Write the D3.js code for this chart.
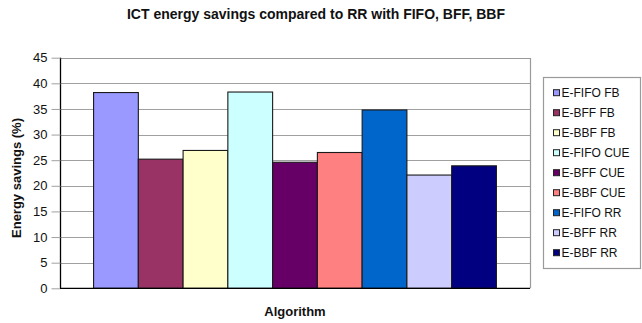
<!DOCTYPE html>
<html>
<head>
<meta charset="utf-8">
<script src="https://cdn.jsdelivr.net/npm/d3@7"></script>
<style>
  html, body { margin: 0; padding: 0; background: #fff; }
  svg { display: block; font-family: "Liberation Sans", Arial, sans-serif; }
</style>
</head>
<body>
<svg id="chart" width="642" height="323"></svg>
<script>
// Series (one bar each) within the single "Algorithm" category
const seriesNames = ["E-FIFO FB", "E-BFF FB", "E-BBF FB", "E-FIFO CUE", "E-BFF CUE", "E-BBF CUE", "E-FIFO RR", "E-BFF RR", "E-BBF RR"];
const seriesValues = [38.2, 25.2, 26.9, 38.3, 24.6, 26.5, 34.8, 22.1, 23.9];
const seriesColors = ["#9999FF", "#993366", "#FFFFCC", "#CCFFFF", "#660066", "#FF8080", "#0066CC", "#CCCCFF", "#000080"];
const yTicks = [0, 5, 10, 15, 20, 25, 30, 35, 40, 45];

const chartTitle = "ICT energy savings compared to RR with FIFO, BFF, BBF";
const xTitle = "Algorithm";
const yTitle = "Energy savings (%)";

const svg = d3.select("#chart");
const plot = { left: 60, right: 530, top: 57.7, bottom: 288.3 };

const y = d3.scaleLinear().domain([0, 45]).range([plot.bottom, plot.top]);
const x = d3.scaleBand().domain(seriesNames).range([plot.left, plot.right])
  .paddingInner(0).paddingOuter(0.75);

// Title
svg.append("text")
  .attr("x", 316).attr("y", 19)
  .attr("text-anchor", "middle")
  .attr("font-weight", "bold").attr("font-size", 14)
  .attr("fill", "#111")
  .text(chartTitle);

// Gridlines
svg.append("g")
  .selectAll("line")
  .data(yTicks.filter(t => t > 0 && t < 45))
  .join("line")
  .attr("x1", plot.left).attr("x2", plot.right)
  .attr("y1", d => Math.round(y(d)) + 0.5).attr("y2", d => Math.round(y(d)) + 0.5)
  .attr("stroke", "#a0a0a0").attr("stroke-width", 1);

// Plot area border (top and right)
svg.append("path")
  .attr("d", `M${plot.left},${Math.round(plot.top) + 0.5}H${plot.right + 0.5}V${plot.bottom}`)
  .attr("fill", "none").attr("stroke", "#9a9a9a").attr("stroke-width", 1.2);

// Bars
svg.append("g")
  .selectAll("rect")
  .data(seriesNames.map((n, i) => ({ name: n, value: seriesValues[i], color: seriesColors[i] })))
  .join("rect")
  .attr("x", d => x(d.name))
  .attr("y", d => y(d.value))
  .attr("width", x.bandwidth())
  .attr("height", d => y(0) - y(d.value))
  .attr("fill", d => d.color)
  .attr("stroke", "#1a1a1a").attr("stroke-width", 1.1);

// Y axis
const yAxis = d3.axisLeft(y).tickValues(yTicks).tickSize(9).tickPadding(4).tickFormat(d3.format("d"));
const gy = svg.append("g").attr("transform", `translate(${plot.left + 0.5},0)`).call(yAxis);
gy.select(".domain").attr("stroke", "#000").attr("stroke-width", 1.3).attr("d", `M0,${plot.top}V${plot.bottom}`);
gy.selectAll(".tick line").attr("stroke", "#a0a0a0");
gy.selectAll(".tick text").attr("font-size", 13).attr("fill", "#111")
  .attr("font-family", "'Liberation Sans', Arial, sans-serif");

// X axis baseline
svg.append("line")
  .attr("x1", plot.left).attr("x2", plot.right)
  .attr("y1", plot.bottom).attr("y2", plot.bottom)
  .attr("stroke", "#000").attr("stroke-width", 1.3);

// Axis titles
svg.append("text")
  .attr("x", (plot.left + plot.right) / 2).attr("y", 315.5)
  .attr("text-anchor", "middle").attr("font-weight", "bold").attr("font-size", 13)
  .attr("fill", "#111")
  .text(xTitle);

svg.append("text")
  .attr("transform", `translate(21,${(plot.top + plot.bottom) / 2 + 5}) rotate(-90)`)
  .attr("text-anchor", "middle").attr("font-weight", "bold").attr("font-size", 13)
  .attr("fill", "#111")
  .text(yTitle);

// Legend
const legend = svg.append("g");
legend.append("rect")
  .attr("x", 543.5).attr("y", 77.5).attr("width", 97).attr("height", 191)
  .attr("fill", "#fff").attr("stroke", "#9a9a9a").attr("stroke-width", 1.2);

const items = legend.selectAll("g.item")
  .data(seriesNames.map((n, i) => ({ name: n, color: seriesColors[i] })))
  .join("g").attr("class", "item")
  .attr("transform", (d, i) => `translate(0,${92.7 + i * 20})`);
items.append("rect")
  .attr("x", 553.5).attr("y", -3).attr("width", 6).attr("height", 6)
  .attr("fill", d => d.color).attr("stroke", "#222").attr("stroke-width", 1);
items.append("text")
  .attr("x", 561.5).attr("y", 4.4)
  .attr("font-size", 12).attr("fill", "#111")
  .text(d => d.name);
</script>
</body>
</html>
